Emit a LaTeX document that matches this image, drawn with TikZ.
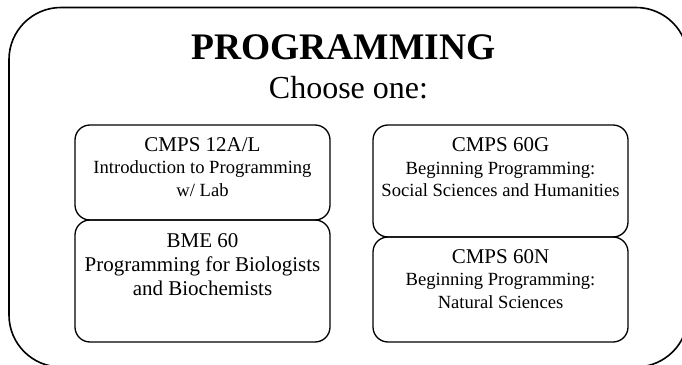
\documentclass[tikz,border=0pt]{standalone}
\usepackage{fontspec}
\setmainfont{Liberation Serif}
\usepackage{tikz}
\usetikzlibrary{positioning,calc}
\tikzstyle{frame} = [rectangle,draw,line width=1.6pt,rounded corners=52pt]
\tikzstyle{course} = [rectangle,draw,line width=1.3pt,rounded corners=15pt,minimum width=255pt]
\tikzstyle{ctext} = [anchor=north,inner sep=0pt,align=center,font=\fontsize{18.6}{22.5}\selectfont]
\newcommand{\chead}[1]{{\fontsize{21}{24}\selectfont #1}}

\begin{document}
\begin{tikzpicture}[x=1pt,y=1pt]
        \useasboundingbox (0,0) rectangle (682,364);
        \node[frame,minimum width=679pt,minimum height=359.5pt] (fr) at (348.5,176.75) {};
        \node[anchor=base,font=\fontsize{37.5}{44}\selectfont\bfseries] (ttl) at ($(fr.north)+(-5,-52.5)$) {PROGRAMMING};
        \node[anchor=base,font=\fontsize{32}{36}\selectfont] (sub) at ($(fr.north)+(0,-91.5)$) {Choose one:};
        \node[course,minimum height=95pt] (c12) at (202.5,191.5) {};
        \node[course,minimum height=122pt] (bme) at (202.5,83) {};
        \node[course,minimum height=112pt] (c60g) at (500.5,183) {};
        \node[course,minimum height=105pt] (c60n) at (500.5,74.5) {};
        \node[ctext] at ($(c12.north)+(0,-13)$) {\chead{CMPS 12A/L}\\Introduction to Programming\\w/ Lab};
        \node[ctext,font=\fontsize{21}{24}\selectfont] at ($(bme.north)+(0,-14)$) {\chead{BME 60}\\Programming for Biologists\\and Biochemists};
        \node[ctext] at ($(c60g.north)+(0,-13)$) {\chead{CMPS 60G}\\Beginning Programming:\\Social Sciences and Humanities};
        \node[ctext] at ($(c60n.north)+(0,-12.5)$) {\chead{CMPS 60N}\\Beginning Programming:\\Natural Sciences};
    \end{tikzpicture}
\end{document}
